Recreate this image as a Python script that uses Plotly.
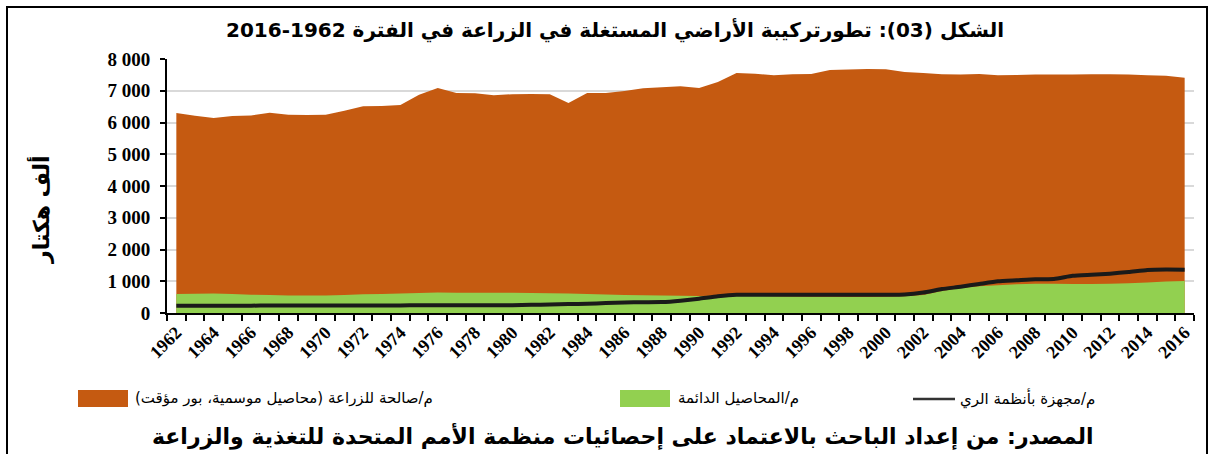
import plotly.graph_objects as go

# ---- data (thousand hectares) ----
years = list(range(1962, 2017))
arable = [6300, 6214, 6141, 6204, 6224, 6309, 6246, 6235, 6246, 6372,
          6509, 6520, 6551, 6877, 7088, 6930, 6919, 6856, 6893, 6898,
          6888, 6614, 6930, 6930, 6993, 7076, 7107, 7139, 7088, 7277,
          7561, 7539, 7486, 7518, 7529, 7655, 7671, 7687, 7676, 7592,
          7561, 7518, 7508, 7529, 7486, 7497, 7508, 7508, 7508, 7518,
          7518, 7508, 7486, 7476, 7413]
permanent = [602, 610, 613, 595, 575, 570, 555, 550, 550, 565,
             590, 600, 613, 630, 645, 640, 635, 635, 634, 630,
             624, 615, 602, 585, 570, 560, 548, 543, 538, 540,
             540, 535, 530, 520, 515, 510, 505, 505, 510, 530,
             570, 690, 785, 839, 871, 903, 925, 925, 914, 914,
             925, 935, 957, 989, 1011]
irrigated = [226, 228, 230, 231, 232, 233, 234, 235, 236, 237,
             238, 239, 240, 241, 242, 243, 244, 245, 247, 258,
             269, 280, 290, 312, 333, 340, 344, 387, 452, 527,
             575, 578, 578, 578, 578, 578, 578, 578, 578, 585,
             645, 753, 828, 914, 1000, 1032, 1065, 1070, 1170, 1204,
             1240, 1290, 1355, 1370, 1365]
tick_years = years[::2]
tick_labels = [str(y) for y in tick_years]

name_arable = "م/صالحة للزراعة (محاصيل موسمية، بور مؤقت)"
name_perm = "م/المحاصيل الدائمة"
name_irr = "م/مجهزة بأنظمة الري"
title_text = "الشكل (03): تطورتركيبة الأراضي المستغلة في الزراعة في الفترة 1962-2016"
source_text = "المصدر: من إعداد الباحث بالاعتماد على إحصائيات منظمة الأمم المتحدة للتغذية والزراعة"
ytitle = "ألف هكتار"

C_OR = "#C55A11"
C_GR = "#92D050"
C_LN = "#1a1a1a"
AR_FONT = "DejaVu Sans"

W, H = 1213, 454
ML, MR, MT, MB = 167, 19, 59, 141
PW, PH = W - ML - MR, H - MT - MB


def px(x):
    return (x - ML) / PW


def py(y):
    return (H - MB - y) / PH


fig = go.Figure()
fig.add_trace(go.Scatter(x=years, y=arable, name=name_arable, mode="none",
                         fill="tozeroy", fillcolor=C_OR, showlegend=False))
fig.add_trace(go.Scatter(x=years, y=permanent, name=name_perm, mode="none",
                         fill="tozeroy", fillcolor=C_GR, showlegend=False))
fig.add_trace(go.Scatter(x=years, y=irrigated, name=name_irr, mode="lines",
                         line=dict(color=C_LN, width=4, shape="spline", smoothing=0.5),
                         showlegend=False))

fig.update_layout(
    width=W, height=H, margin=dict(l=ML, r=MR, t=MT, b=MB),
    plot_bgcolor="white", paper_bgcolor="white", separators=". ",
    showlegend=False,
)
fig.update_xaxes(
    type="linear", range=[1961.5, 2016.5],
    tickmode="array", tickvals=tick_years, ticktext=tick_labels,
    tickangle=-45, ticks="",
    tickfont=dict(family="Liberation Serif", size=18, color="black", weight="bold"),
    showline=True, linecolor="black", linewidth=2, showgrid=False, zeroline=False,
    minor=dict(ticks="outside", tick0=1961.5, dtick=1, ticklen=6,
               tickcolor="black", tickwidth=1.5, showgrid=False),
)
fig.update_yaxes(
    range=[0, 8000], dtick=1000, tickformat=",d",
    tickfont=dict(family="Liberation Serif", size=19, color="black", weight="bold"),
    showline=True, linecolor="black", linewidth=2,
    ticks="outside", ticklen=5, tickcolor="black", tickwidth=1.5,
    ticklabelstandoff=6,
    showgrid=True, gridcolor="#d9d9d9", gridwidth=1.5, zeroline=False,
)

shapes = []
# outer frame
shapes.append(dict(type="rect", xref="paper", yref="paper",
                   x0=px(7), x1=px(1207), y0=py(480), y1=py(7),
                   line=dict(color="black", width=2), fillcolor="rgba(0,0,0,0)", layer="above"))
# legend symbols
shapes.append(dict(type="rect", xref="paper", yref="paper",
                   x0=px(78), x1=px(128), y0=py(407), y1=py(390),
                   line=dict(width=0), fillcolor=C_OR))
shapes.append(dict(type="rect", xref="paper", yref="paper",
                   x0=px(620), x1=px(670), y0=py(407), y1=py(390),
                   line=dict(width=0), fillcolor=C_GR))
shapes.append(dict(type="line", xref="paper", yref="paper",
                   x0=px(913), x1=px(955), y0=py(399), y1=py(399),
                   line=dict(color="#333333", width=2.5)))

annotations = [
    dict(text="<b>" + title_text + "</b>", xref="paper", yref="paper",
         x=px(615), y=py(30), xanchor="center", yanchor="middle", showarrow=False,
         font=dict(family=AR_FONT, size=20, color="black")),
    dict(text="<b>" + source_text + "</b>", xref="paper", yref="paper",
         x=px(622), y=py(436), xanchor="center", yanchor="middle", showarrow=False,
         font=dict(family=AR_FONT, size=22, color="black")),
    dict(text="<b>" + ytitle + "</b>", xref="paper", yref="paper",
         x=px(40), y=py(210), xanchor="center", yanchor="middle", showarrow=False,
         textangle=-90, font=dict(family=AR_FONT, size=22, color="black")),
    dict(text=name_arable, xref="paper", yref="paper",
         x=px(133), y=py(398), xanchor="left", yanchor="middle", showarrow=False,
         font=dict(family=AR_FONT, size=15, color="black")),
    dict(text=name_perm, xref="paper", yref="paper",
         x=px(676), y=py(398), xanchor="left", yanchor="middle", showarrow=False,
         font=dict(family=AR_FONT, size=15, color="black")),
    dict(text=name_irr, xref="paper", yref="paper",
         x=px(958), y=py(398), xanchor="left", yanchor="middle", showarrow=False,
         font=dict(family=AR_FONT, size=15, color="black")),
]
fig.update_layout(shapes=shapes, annotations=annotations)

fig.write_html("out.html", config={"displayModeBar": False},
               post_script="document.body.style.margin='0';")
